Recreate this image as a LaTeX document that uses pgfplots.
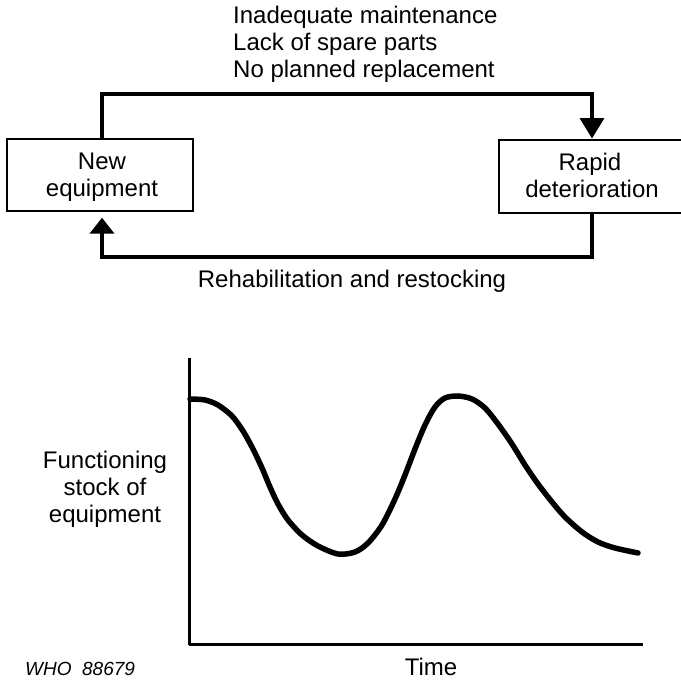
\documentclass[border=0pt]{standalone}
\usepackage{fontspec}
\setmainfont{Liberation Sans}
\usepackage{pgfplots}
\pgfplotsset{compat=1.18}
\usetikzlibrary{arrows.meta}
\begin{document}
\begin{tikzpicture}[x=1pt,y=1pt,font=\fontsize{24}{27}\selectfont]
\useasboundingbox (0,0) rectangle (680,685);
% top text
\node[anchor=mid west,inner sep=0] at (233,664) {Inadequate maintenance};
\node[anchor=mid west,inner sep=0] at (233,637) {Lack of spare parts};
\node[anchor=mid west,inner sep=0] at (233,610) {No planned replacement};
% boxes
\draw[line width=2pt] (7,546) rectangle (193,474);
\draw[line width=2pt] (499,545) rectangle (690,472);
\node[anchor=mid,inner sep=0] at (102,518) {New};
\node[anchor=mid,inner sep=0] at (102,491) {equipment};
\node[anchor=mid,inner sep=0] at (590,517) {Rapid};
\node[anchor=mid,inner sep=0] at (592,490) {deterioration};
% connectors
\draw[line width=4pt,line join=miter] (102,547) -- (102,591) -- (592,591) -- (592,562);
\draw[line width=1.5pt,fill=black,line join=miter] (581,566) -- (603,566) -- (592,548) -- cycle;
\draw[line width=4pt,line join=miter] (592,471) -- (592,428) -- (102,428) -- (102,452);
\draw[line width=1.5pt,fill=black,line join=miter] (91,452) -- (113,452) -- (102,466) -- cycle;
\node[anchor=mid,inner sep=0] at (352,400) {Rehabilitation and restocking};
% bottom chart
\begin{axis}[
  at={(189pt,40pt)}, anchor=origin,
  scale only axis, width=454pt, height=287pt,
  xmin=0, xmax=454, ymin=0, ymax=287,
  axis x line=bottom, axis y line=left,
  axis line style={-, line width=3pt, black},
  ticks=none,
  clip=false,
]
\addplot[black, line width=5.5pt, smooth, line cap=round] coordinates {
(1,246) (16,245) (29,240) (43,229) (54,214) (64,196) (73,177) (81,158)
(89,141) (99,125) (113,110) (129,99) (149,91) (166,93) (179,102)
(193,120) (206,146) (216,170) (226,196) (236,220) (246,238) (256,247)
(269,249) (283,246) (296,237) (309,221) (323,201) (336,180) (349,161)
(363,143) (376,128) (393,113) (409,103) (426,97) (449,92)
};
\end{axis}
\node[align=center,inner sep=0] at (105,196) {Functioning\\stock of\\equipment};
\node[anchor=mid,inner sep=0] at (431,12) {Time};
\node[anchor=mid west,inner sep=0,font=\fontsize{19}{22}\selectfont\itshape] at (25,12) {WHO\ \ 88679};
\end{tikzpicture}
\end{document}
